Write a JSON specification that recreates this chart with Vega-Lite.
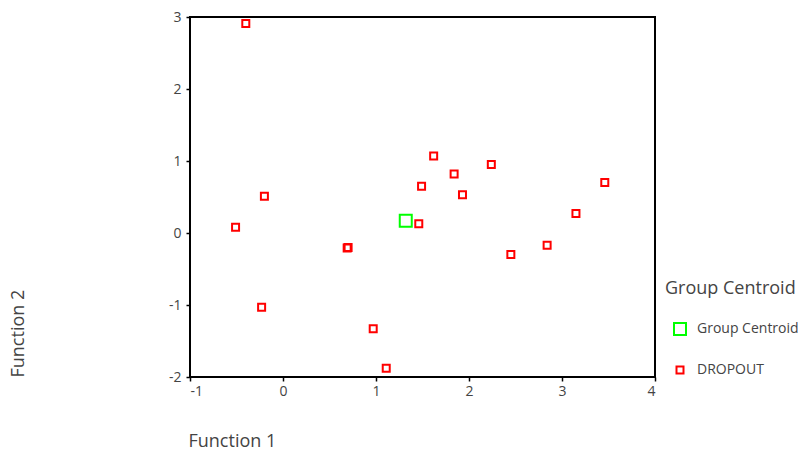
{
  "$schema": "https://vega.github.io/schema/vega-lite/v6.json",
  "autosize": {"type": "none"},
  "padding": {"left": 190, "top": 17, "right": 146, "bottom": 79},
  "width": 465,
  "height": 360,
  "background": "white",
  "config": {
    "view": {"stroke": "black", "strokeWidth": 2},
    "font": "Open Sans",
    "axis": {
      "grid": false,
      "domain": false,
      "tickColor": "black",
      "tickSize": 4,
      "tickWidth": 1.5,
      "labelColor": "#444",
      "labelFontSize": 14,
      "labelFont": "Open Sans",
      "titleFont": "Open Sans",
      "titleFontSize": 18,
      "titleFontWeight": "normal",
      "titleColor": "#444",
      "labelExpr": "'' + datum.value"
    },
    "legend": {
      "titleFont": "Open Sans",
      "titleFontSize": 18,
      "titleFontWeight": "normal",
      "titleColor": "#444",
      "labelFont": "Open Sans",
      "labelFontSize": 14,
      "labelColor": "#444"
    }
  },
  "data": {
    "values": [
      {"f1": 1.32, "f2": 0.17, "group": "Group Centroid"},
      {"f1": -0.40, "f2": 2.91, "group": "DROPOUT"},
      {"f1": 1.62, "f2": 1.07, "group": "DROPOUT"},
      {"f1": 1.84, "f2": 0.82, "group": "DROPOUT"},
      {"f1": 2.24, "f2": 0.95, "group": "DROPOUT"},
      {"f1": 1.49, "f2": 0.65, "group": "DROPOUT"},
      {"f1": 3.46, "f2": 0.70, "group": "DROPOUT"},
      {"f1": 1.93, "f2": 0.53, "group": "DROPOUT"},
      {"f1": -0.20, "f2": 0.51, "group": "DROPOUT"},
      {"f1": -0.51, "f2": 0.08, "group": "DROPOUT"},
      {"f1": 0.69, "f2": -0.21, "group": "DROPOUT"},
      {"f1": 0.70, "f2": -0.20, "group": "DROPOUT"},
      {"f1": 1.46, "f2": 0.13, "group": "DROPOUT"},
      {"f1": 2.45, "f2": -0.30, "group": "DROPOUT"},
      {"f1": 2.84, "f2": -0.17, "group": "DROPOUT"},
      {"f1": 3.15, "f2": 0.27, "group": "DROPOUT"},
      {"f1": -0.23, "f2": -1.03, "group": "DROPOUT"},
      {"f1": 0.97, "f2": -1.33, "group": "DROPOUT"},
      {"f1": 1.11, "f2": -1.88, "group": "DROPOUT"}
    ]
  },
  "mark": {"type": "point", "shape": "square", "filled": false, "strokeWidth": 2, "opacity": 1},
  "encoding": {
    "x": {
      "field": "f1", "type": "quantitative",
      "scale": {"domain": [-1, 4], "nice": false, "zero": false},
      "axis": {"values": [-1, 0, 1, 2, 3, 4], "title": "Function 1", "titleX": -2, "titleY": 64, "titleAlign": "left", "titleBaseline": "middle", "labelPadding": 3}
    },
    "y": {
      "field": "f2", "type": "quantitative",
      "scale": {"domain": [-2, 3], "nice": false, "zero": false},
      "axis": {"values": [-2, -1, 0, 1, 2, 3], "title": "Function 2", "titleX": -172, "titleY": 360, "titleAlign": "left", "titleBaseline": "middle", "titleAngle": 270, "labelPadding": 5}
    },
    "color": {
      "field": "group", "type": "nominal",
      "scale": {"domain": ["Group Centroid", "DROPOUT"], "range": ["#00ff00", "#ff0000"]},
      "legend": {"title": "Group Centroid", "orient": "none", "legendX": 475, "legendY": 263, "symbolType": "square", "symbolStrokeWidth": 2, "symbolOffset": 8, "labelOffset": 10, "rowPadding": 23, "titlePadding": 24}
    },
    "size": {
      "field": "group", "type": "nominal",
      "scale": {"domain": ["Group Centroid", "DROPOUT"], "range": [144, 49]},
      "legend": {"title": "Group Centroid", "orient": "none", "legendX": 475, "legendY": 263}
    }
  }
}
